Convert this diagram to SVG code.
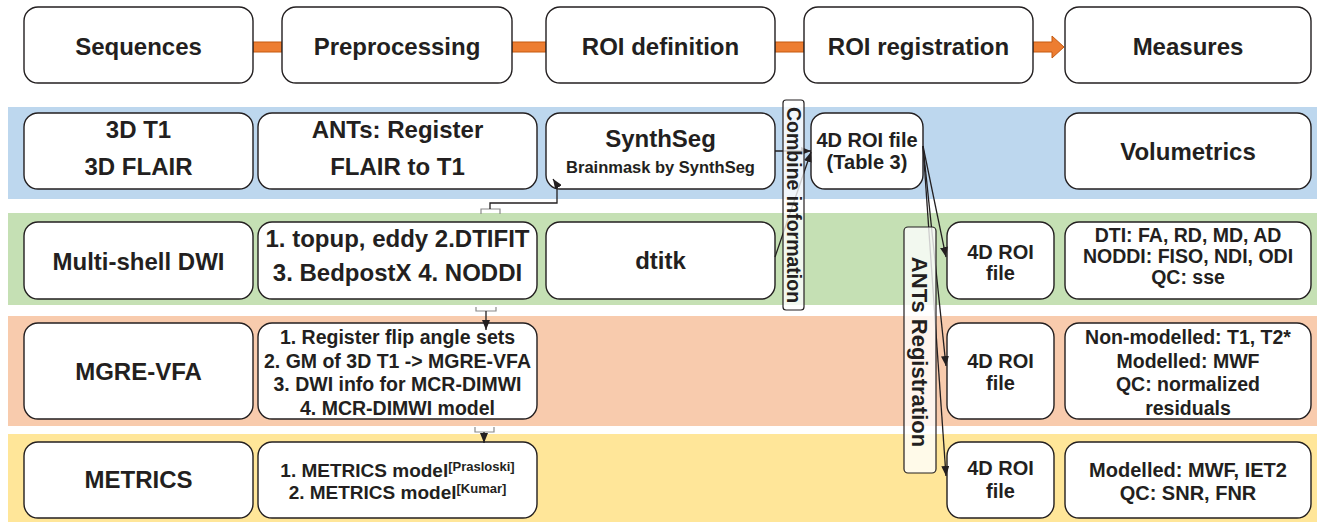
<svg xmlns="http://www.w3.org/2000/svg" width="1317" height="522" viewBox="0 0 1317 522">
<style>
.bx{fill:#fff;stroke:#231f20;stroke-width:1.4}
.t{font-family:"Liberation Sans",Arial,sans-serif;font-weight:bold;fill:#231f20;text-anchor:middle}
.l{font-size:24px}
.s{font-size:20px}
.m{font-size:19.5px}
.sup{font-size:13px}
.ob{fill:#ed7d31;stroke:#c55a11;stroke-width:1}
.cn{fill:none;stroke:#231f20;stroke-width:1.3}
.br{fill:none;stroke:#8a8a8a;stroke-width:1.2}
.lab{fill:#fff;fill-opacity:0.78;stroke:#231f20;stroke-width:1.2}
</style>
<defs>
<marker id="ah" viewBox="0 0 10 8" refX="10" refY="4" markerWidth="10" markerHeight="8" markerUnits="userSpaceOnUse" orient="auto">
<path d="M0,0 L10,4 L0,8 Z" fill="#231f20"/>
</marker>
</defs>

<g id="bands">
<rect x="8" y="107" width="1309" height="92" fill="#bdd7ee"/>
<rect x="8" y="213" width="1309" height="92" fill="#c5e0b4"/>
<rect x="8" y="316" width="1309" height="110" fill="#f8cbad"/>
<rect x="8" y="434" width="1309" height="88" fill="#ffe699"/>
</g>

<g id="header-links">
<rect class="ob" x="253" y="42" width="29" height="10"/>
<rect class="ob" x="512" y="42" width="34" height="10"/>
<rect class="ob" x="775" y="42" width="29" height="10"/>
<path class="ob" d="M1033,42 H1052 V36 L1064,47 L1052,58 V52 H1033 Z"/>
</g>

<g id="h-sequences"><rect class="bx" x="24" y="7" width="229" height="76" rx="14"/><text class="t l" x="138.5" y="55">Sequences</text></g>
<g id="h-preprocessing"><rect class="bx" x="282" y="7" width="230" height="76" rx="14"/><text class="t l" x="397" y="55">Preprocessing</text></g>
<g id="h-roidef"><rect class="bx" x="546" y="7" width="229" height="76" rx="14"/><text class="t l" x="660.5" y="55">ROI definition</text></g>
<g id="h-roireg"><rect class="bx" x="804" y="7" width="229" height="76" rx="14"/><text class="t l" x="918.5" y="55">ROI registration</text></g>
<g id="h-measures"><rect class="bx" x="1065" y="7" width="246" height="76" rx="14"/><text class="t l" x="1188" y="55">Measures</text></g>

<g id="seq-t1"><rect class="bx" x="24" y="113" width="229" height="76" rx="14"/><text class="t l" x="138.5" y="138">3D T1</text><text class="t l" x="138.5" y="175">3D FLAIR</text></g>
<g id="pre-ants"><rect class="bx" x="258" y="113" width="279" height="76" rx="14"/><text class="t l" x="397.5" y="138">ANTs: Register</text><text class="t l" x="397.5" y="175">FLAIR to T1</text></g>
<g id="roi-synthseg"><rect class="bx" x="546" y="113" width="229" height="76" rx="14"/><text class="t l" x="660.5" y="147">SynthSeg</text><text class="t" style="font-size:16.5px" x="660.5" y="173">Brainmask by SynthSeg</text></g>
<g id="reg-4droi"><rect class="bx" x="811" y="113" width="112" height="76" rx="14"/><text class="t s" x="867" y="147">4D ROI file</text><text class="t s" x="867" y="169">(Table 3)</text></g>
<g id="m-volumetrics"><rect class="bx" x="1065" y="113" width="246" height="76" rx="14"/><text class="t l" x="1188" y="160">Volumetrics</text></g>

<g id="seq-dwi"><rect class="bx" x="24" y="222" width="229" height="77" rx="14"/><text class="t l" x="138.5" y="270">Multi-shell DWI</text></g>
<g id="pre-dwi"><rect class="bx" x="258" y="222" width="279" height="77" rx="14"/><text class="t l" x="397.5" y="247">1. topup, eddy 2.DTIFIT</text><text class="t l" x="397.5" y="281">3. BedpostX 4. NODDI</text></g>
<g id="roi-dtitk"><rect class="bx" x="546" y="222" width="229" height="77" rx="14"/><text class="t l" x="660.5" y="269">dtitk</text></g>
<g id="reg-dwi"><rect class="bx" x="947" y="222" width="107" height="77" rx="14"/><text class="t s" x="1000.5" y="259">4D ROI</text><text class="t s" x="1000.5" y="280">file</text></g>
<g id="m-dwi"><rect class="bx" x="1065" y="222" width="246" height="77" rx="14"/><text class="t m" x="1188" y="242">DTI: FA, RD, MD, AD</text><text class="t m" x="1188" y="263">NODDI: FISO, NDI, ODI</text><text class="t m" x="1188" y="284">QC: sse</text></g>

<g id="seq-mgre"><rect class="bx" x="24" y="323" width="229" height="96" rx="14"/><text class="t l" x="138.5" y="380">MGRE-VFA</text></g>
<g id="pre-mgre"><rect class="bx" x="258" y="323" width="279" height="96" rx="14"/><text class="t m" x="397.5" y="344">1. Register flip angle sets</text><text class="t m" x="397.5" y="367.5">2. GM of 3D T1 -&gt; MGRE-VFA</text><text class="t m" x="397.5" y="391">3. DWI info for MCR-DIMWI</text><text class="t m" x="397.5" y="414.5">4. MCR-DIMWI model</text></g>
<g id="reg-mgre"><rect class="bx" x="947" y="323" width="107" height="96" rx="14"/><text class="t s" x="1000.5" y="368">4D ROI</text><text class="t s" x="1000.5" y="390">file</text></g>
<g id="m-mgre"><rect class="bx" x="1065" y="323" width="246" height="96" rx="14"/><text class="t m" x="1188" y="344">Non-modelled: T1, T2*</text><text class="t m" x="1188" y="367.5">Modelled: MWF</text><text class="t m" x="1188" y="391">QC: normalized</text><text class="t m" x="1188" y="414.5">residuals</text></g>

<g id="seq-metrics"><rect class="bx" x="24" y="442" width="229" height="76" rx="14"/><text class="t l" x="138.5" y="488">METRICS</text></g>
<g id="pre-metrics"><rect class="bx" x="258" y="442" width="279" height="76" rx="14"/><text class="t" style="font-size:19px" x="397.5" y="477">1. METRICS model<tspan class="sup" dy="-6">[Prasloski]</tspan></text><text class="t" style="font-size:19px" x="397.5" y="499">2. METRICS model<tspan class="sup" dy="-6">[Kumar]</tspan></text></g>
<g id="reg-metrics"><rect class="bx" x="947" y="442" width="107" height="76" rx="14"/><text class="t s" x="1000.5" y="475">4D ROI</text><text class="t s" x="1000.5" y="498">file</text></g>
<g id="m-metrics"><rect class="bx" x="1065" y="442" width="246" height="76" rx="14"/><text class="t s" x="1188" y="477">Modelled: MWF, IET2</text><text class="t s" x="1188" y="500">QC: SNR, FNR</text></g>

<g id="connectors">
<path class="br" d="M481,214 V209 H500 V214"/>
<path class="cn" d="M490,209 V203 H557 V185 L553,179" marker-end="url(#ah)"/>
<path class="br" d="M476,307 V311 H496 V307"/>
<path class="cn" d="M486,311 V330" marker-end="url(#ah)"/>
<path class="br" d="M475,427 V432 H494 V427"/>
<path class="cn" d="M484,432 V443" marker-end="url(#ah)"/>
<path class="cn" d="M775,151 H811" marker-end="url(#ah)"/>
<path class="cn" d="M775,257 L811,152" marker-end="url(#ah)"/>
<path class="cn" d="M923,146 L946,257" marker-end="url(#ah)"/>
<path class="cn" d="M923,146 L946,366" marker-end="url(#ah)"/>
<path class="cn" d="M923,146 L946,476" marker-end="url(#ah)"/>
</g>

<g id="label-combine">
<rect class="lab" x="783" y="100" width="21" height="210" rx="3"/>
<text class="t" style="font-size:19.5px" transform="translate(793.5,205) rotate(90)" x="0" y="7">Combine information</text>
</g>
<g id="label-ants">
<rect class="lab" x="904" y="227" width="32" height="246" rx="4"/>
<text class="t" style="font-size:22px" transform="translate(920,352) rotate(90)" x="0" y="8">ANTs Registration</text>
</g>
</svg>
